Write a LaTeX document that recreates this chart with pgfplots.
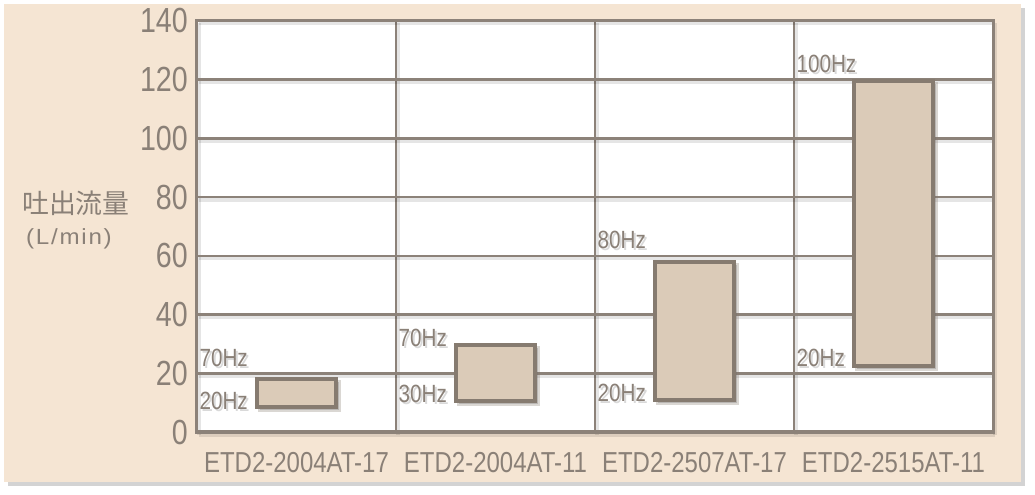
\documentclass[border=0pt]{standalone}
\usepackage{pgfplots}
\pgfplotsset{compat=1.18}
\usepackage{fontspec}
\setmainfont{Liberation Sans}[FakeStretch=0.83]
\newfontfamily\yfont{Liberation Sans}[FakeStretch=0.82]
\newfontfamily\cjk{Noto Sans CJK JP}
\newfontfamily\unitf{Liberation Sans}[FakeStretch=1.1, LetterSpace=8]
\usetikzlibrary{shadows,backgrounds}
\definecolor{panel}{HTML}{F5E5D3}
\definecolor{gridc}{HTML}{8C8279}
\definecolor{barfill}{HTML}{DBCBB8}
\definecolor{barline}{HTML}{867B70}
\definecolor{txt}{HTML}{8A8077}
\newcommand\hzfont{\fontsize{25}{25}\selectfont}
\newcommand\hzlabel[3]{%
 \node[anchor=west,inner sep=0pt,text=black,opacity=0.15,font=\hzfont] at ([xshift=2bp,yshift=-2bp]axis cs:#1,#2) {#3};
 \node[anchor=west,inner sep=0pt,text=txt,font=\hzfont] at (axis cs:#1,#2) {#3};}
\begin{document}
\begin{tikzpicture}
\useasboundingbox (-197bp,-63bp) rectangle (838bp,432bp);
\begin{axis}[
  scale only axis, width=796bp, height=411bp,
  xmin=0, xmax=4, ymin=0, ymax=140,
  xtick={0,1,2,3,4},
  xticklabels={ETD2-2004AT-17,ETD2-2004AT-11,ETD2-2507AT-17,ETD2-2515AT-11},
  x tick label as interval,
  ytick={0,20,...,140},
  /pgf/number format/assume math mode=true,
  yticklabel={\pgfmathprintnumber{\tick}},
  xmajorgrids, ymajorgrids,
  major grid style={draw=gridc, line width=2.5bp,
     preaction={draw=black, opacity=0.10, line width=4bp, transform canvas={xshift=2bp,yshift=-2.5bp}}},
  axis line style={draw=gridc, line width=3bp},
  major tick length=0pt, tick style={draw=none},
  axis background/.style={fill=white},
  yticklabel style={font=\yfont\fontsize{35}{35}\selectfont, text=txt, inner sep=0pt, anchor=east, xshift=-9bp},
  xticklabel style={font=\fontsize{29}{29}\selectfont, text=txt, inner sep=0pt, anchor=north, yshift=-20bp},
  bar/.style={fill=barfill, draw=barline, line width=4bp, mark=none,
     drop shadow={shadow xshift=3bp, shadow yshift=-3bp, opacity=0.3, fill=black!60}},
]
\addplot[bar] coordinates {(0.3,8.5) (0.7,8.5) (0.7,18) (0.3,18)} -- cycle;
\addplot[bar] coordinates {(1.3,10.5) (1.7,10.5) (1.7,29.7) (1.3,29.7)} -- cycle;
\addplot[bar] coordinates {(2.3,11) (2.7,11) (2.7,58) (2.3,58)} -- cycle;
\addplot[bar] coordinates {(3.3,22.5) (3.7,22.5) (3.7,119.5) (3.3,119.5)} -- cycle;
\hzlabel{0.012}{25.2}{70Hz}
\hzlabel{0.012}{10.6}{20Hz}
\hzlabel{1.012}{32.0}{70Hz}
\hzlabel{1.012}{12.9}{30Hz}
\hzlabel{2.012}{65.4}{80Hz}
\hzlabel{2.012}{13.3}{20Hz}
\hzlabel{3.012}{125.3}{100Hz}
\hzlabel{3.012}{25.4}{20Hz}
\end{axis}
\node[text=txt, font=\cjk\fontsize{27}{27}\selectfont, inner sep=0pt] at (-121bp,229bp) {吐出流量};
\node[text=txt, font=\unitf\fontsize{22}{22}\selectfont, inner sep=0pt] at (-128bp,193bp) {(L/min)};
\begin{scope}[on background layer]
\fill[panel, drop shadow={shadow xshift=4bp, shadow yshift=-4bp, opacity=0.35, fill=black!50}] (-193bp,-50bp) rectangle (824bp,428bp);
\end{scope}
\end{tikzpicture}
\end{document}
